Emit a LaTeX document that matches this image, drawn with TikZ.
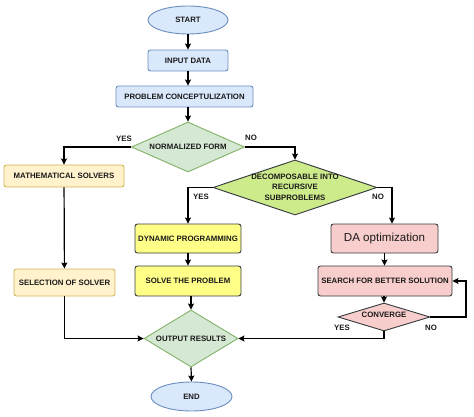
\documentclass[tikz,border=0pt]{standalone}
\usepackage{fontspec}
\setmainfont{Liberation Sans}
\usetikzlibrary{shapes.geometric,arrows.meta,calc}
\definecolor{bluefill}{HTML}{DAE8FC}
\definecolor{bluedraw}{HTML}{6C8EBF}
\definecolor{yelfill}{HTML}{FFF2CC}
\definecolor{yeldraw}{HTML}{D6B656}
\definecolor{grnfill}{HTML}{D5E8D4}
\definecolor{grndraw}{HTML}{82B366}
\definecolor{limefill}{HTML}{CDEB8B}
\definecolor{darkdraw}{HTML}{36393D}
\definecolor{brightyel}{HTML}{FFFF88}
\definecolor{pinkfill}{HTML}{F8CECC}
\definecolor{txt}{HTML}{1A1A1A}
\tikzset{
  base/.style={inner sep=0pt, line width=0.9pt, font=\fontsize{7.8}{9.5}\selectfont\bfseries, text=txt},
  box/.style={base, rectangle, rounded corners=2.5pt},
  bluebox/.style={box, fill=bluefill, draw=bluedraw},
  yelbox/.style={box, fill=yelfill, draw=yeldraw},
  dynbox/.style={box, fill=brightyel, draw=darkdraw},
  pinkbox/.style={box, fill=pinkfill, draw=darkdraw},
  oval/.style={base, ellipse, fill=bluefill, draw=bluedraw},
  dia/.style={base, diamond, aspect=1},
  txtnode/.style={inner sep=0pt, font=\fontsize{7.8}{10.5}\selectfont\bfseries, text=txt, align=center},
  lbl/.style={inner sep=0pt, font=\fontsize{7.8}{9.5}\selectfont\bfseries, text=txt},
  conn/.style={line width=1.2pt, -{Stealth[length=6pt,width=6pt,inset=1pt]}},
}
\begin{document}
\begin{tikzpicture}[x=1pt,y=-1pt]
\useasboundingbox (0,0) rectangle (474,417);
\fill[white] (0,0) rectangle (474,417);
% nodes
\node[oval, minimum width=80pt, minimum height=28pt] (start) at (188,20) {START};
\node[bluebox, minimum width=80pt, minimum height=21pt] (input) at (188,60.5) {INPUT DATA};
\node[bluebox, minimum width=137pt, minimum height=21pt] (concept) at (184.5,96.5) {PROBLEM CONCEPTULIZATION};
\node[dia, fill=grnfill, draw=grndraw, minimum width=113pt, minimum height=50pt] (norm) at (188,147) {};
\node[txtnode] (normt) at (norm) {NORMALIZED FORM};
\node[yelbox, minimum width=120pt, minimum height=22pt] (math) at (64,176) {MATHEMATICAL SOLVERS};
\node[dia, fill=limefill, draw=darkdraw, minimum width=164pt, minimum height=55pt] (decomp) at (295,187.5) {};
\node[txtnode] (decompt) at (295,187.3) {DECOMPOSABLE INTO\\RECURSIVE\\SUBPROBLEMS};
\node[dynbox, minimum width=106pt, minimum height=29pt] (dyn) at (188,238.5) {DYNAMIC PROGRAMMING};
\node[dynbox, minimum width=106pt, minimum height=30pt] (solve) at (188,281) {SOLVE THE PROBLEM};
\node[yelbox, minimum width=101pt, minimum height=27pt] (sel) at (64.5,282.5) {SELECTION OF SOLVER};
\node[pinkbox, minimum width=107pt, minimum height=29pt, font=\fontsize{11.6}{13}\selectfont] (da) at (384.5,238.5) {DA optimization};
\node[pinkbox, minimum width=134pt, minimum height=30pt] (search) at (385,281) {SEARCH FOR BETTER SOLUTION};
\node[dia, fill=pinkfill, draw=darkdraw, minimum width=92pt, minimum height=28pt] (conv) at (384,317) {};
\node[txtnode] (convt) at (384,315) {CONVERGE};
\node[dia, fill=grnfill, draw=grndraw, minimum width=94pt, minimum height=57pt] (out) at (191,338.5) {};
\node[txtnode] (outt) at (out) {OUTPUT RESULTS};
\node[oval, minimum width=81pt, minimum height=29pt] (end) at (191.5,396.5) {END};
\coordinate (loop) at (466,317);
% labels
\node[lbl] (yes1) at (124,139) {YES};
\node[lbl] (no1) at (251,138) {NO};
\node[lbl] (yes2) at (201,197) {YES};
\node[lbl] (no2) at (378,197) {NO};
\node[lbl] (yes3) at (342,327.5) {YES};
\node[lbl] (no3) at (431,327.5) {NO};
% connectors
\draw[conn] (start) -- (input);
\draw[conn] (input.south) -- (input.south |- concept.north);
\draw[conn] (norm.north |- concept.south) -- (norm.north);
\draw[conn] (norm.west) -| (math.north);
\draw[conn] (norm.east) -| (decomp.north);
\draw[conn] (decomp.west) -| (dyn.north);
\draw[conn] (decomp.east) -| ($(da.north)+(7.5,0)$);
\draw[conn] (dyn) -- (solve);
\draw[conn] (math) -- (sel);
\draw[conn] (da.south) -- (da.south |- search.north);
\draw[conn] (search.south -| conv.north) -- (conv.north);
\draw[conn] (conv.east) -- (loop) |- (search.east);
\draw[conn] (conv.south) |- (out.east);
\draw[conn] (sel.south) |- (out.west);
\draw[conn] (out.north |- solve.south) -- (out.north);
\draw[conn] (out.south) -- (end.north);
\end{tikzpicture}
\end{document}
